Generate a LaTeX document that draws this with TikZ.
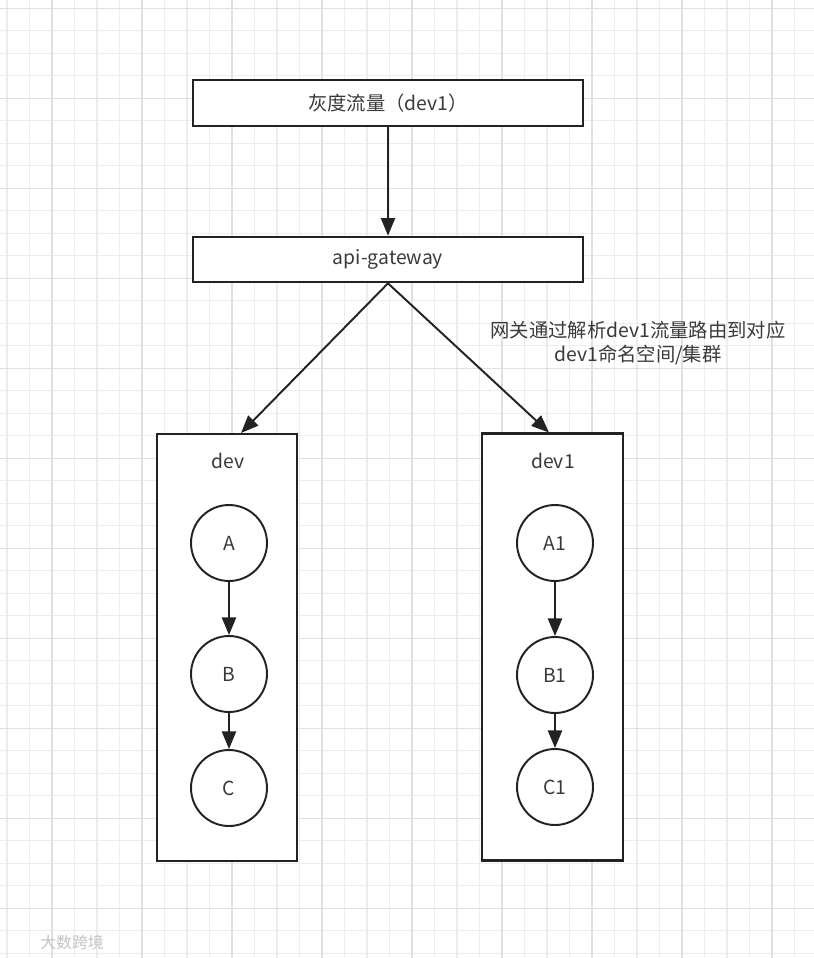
\documentclass[tikz,border=0pt]{standalone}
\usepackage{fontspec}
\setmainfont{Noto Sans CJK SC}
\usetikzlibrary{arrows.meta}
\definecolor{ink}{HTML}{222222}
\definecolor{txt}{HTML}{3A3A3A}
\definecolor{gridminor}{HTML}{EDEDED}
\definecolor{gridmajor}{HTML}{E0E0E0}
\definecolor{mark}{HTML}{C4C4C4}

\begin{document}
\begin{tikzpicture}[x=0.02cm,y=-0.02cm,>={Triangle[length=10pt,width=8pt]},
      bar/.style={draw=ink,line width=1.2pt,fill=white,minimum width=7.8cm,
                  minimum height=0.91cm,font=\fontsize{11}{13}\selectfont,text=txt},
      ns/.style={draw=ink,line width=1.2pt,fill=white,minimum width=2.8cm,
                  minimum height=8.54cm},
      svc/.style={circle,draw=ink,line width=1.1pt,fill=white,minimum size=1.52cm,
                  inner sep=0pt,font=\fontsize{11}{13}\selectfont,text=txt},
      flow/.style={->,line width=1.1pt,draw=ink},
      tag/.style={font=\fontsize{11}{13.6}\selectfont,text=txt,align=center}]
    \useasboundingbox (0,0) rectangle (814,958);
    \fill[white] (0,0) rectangle (814,958);
    % background grid
    \foreach \k in {0,...,35} \draw[gridminor,line width=.6pt] ({7+22.5*\k},0) -- ({7+22.5*\k},958);
    \foreach \k in {0,...,42} \draw[gridminor,line width=.6pt] (0,{8.3+22.5*\k}) -- (814,{8.3+22.5*\k});
    \foreach \k in {2,6,...,34} \draw[gridmajor,line width=.6pt] ({7+22.5*\k},0) -- ({7+22.5*\k},958);
    \foreach \k in {0,4,...,40} \draw[gridmajor,line width=.6pt] (0,{8.3+22.5*\k}) -- (814,{8.3+22.5*\k});

    \node[bar] (traffic) at (388,103) {灰度流量（dev1）};
    \node[bar] (gateway) at (388,259.5) {api-gateway};
    \draw[flow] (traffic.south) -- (gateway.north);

    \node[ns] (devbox) at (227,647.5) {};
    \node[ns,minimum width=2.82cm] (dev1box) at (552.5,647) {};
    \node[tag] (devname) at (228,461) {dev};
    \node[tag] (dev1name) at (553,461) {dev1};
    \draw[flow] (gateway.south) -- ([xshift=8]devbox.north);
    \draw[flow] (gateway.south) -- ([xshift=-2]dev1box.north);
    \node[tag] (note) at (638,343) {网关通过解析dev1流量路由到对应\\dev1命名空间/集群};

    \node[svc] (a) at (229,543) {A};
    \node[svc] (b) at (229,674) {B};
    \node[svc] (c) at (229,788) {C};
    \draw[flow] (a) -- (b);
    \draw[flow] (b) -- (c);

    \node[svc] (a1) at (555,543) {A1};
    \node[svc] (b1) at (555,675) {B1};
    \node[svc] (c1) at (555,787) {C1};
    \draw[flow] (a1) -- (b1);
    \draw[flow] (b1) -- (c1);

    \node[font=\fontsize{9}{11}\selectfont,text=mark] (wm) at (72,942) {大数跨境};
\end{tikzpicture}
\end{document}
